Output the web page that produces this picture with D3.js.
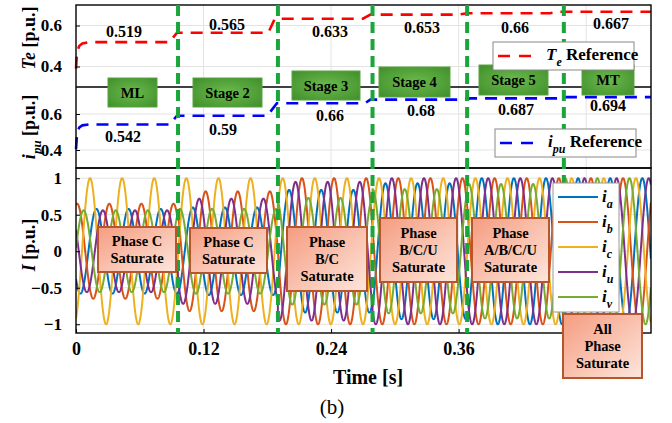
<!DOCTYPE html>
<html>
<head>
<meta charset="utf-8">
<script src="https://cdn.jsdelivr.net/npm/d3@7"></script>
<style>
  body { margin: 0; background: #fff; }
  text { font-family: "Liberation Serif", "Times New Roman", serif; font-weight: bold; fill: #000; }
</style>
</head>
<body>
<svg id="chart" width="672" height="423"></svg>
<script>
/* ---------- data ---------- */
// stage boundaries [s] (green dashed lines) and names
const stageEdges = [0, 0.096, 0.19, 0.279, 0.368, 0.459, 0.541];
const stageNames = ["ML", "Stage 2", "Stage 3", "Stage 4", "Stage 5", "MT"];

// Te reference (red dashed)
const teTimes  = [0, 0.001, 0.003, 0.006, 0.012, 0.088, 0.095, 0.181, 0.187, 0.270, 0.277, 0.360, 0.368, 0.446, 0.455, 0.541];
const teValues = [0.39, 0.47, 0.50, 0.512, 0.519, 0.519, 0.565, 0.565, 0.633, 0.633, 0.653, 0.653, 0.66, 0.66, 0.667, 0.667];
const teLabels = ["0.519", "0.565", "0.633", "0.653", "0.66", "0.667"];

// ipu reference (blue dashed)
const ipuTimes  = [0, 0.001, 0.003, 0.006, 0.012, 0.088, 0.095, 0.180, 0.189, 0.272, 0.277, 0.363, 0.371, 0.453, 0.458, 0.541];
const ipuValues = [0.405, 0.49, 0.525, 0.537, 0.542, 0.542, 0.59, 0.59, 0.66, 0.66, 0.68, 0.68, 0.687, 0.687, 0.694, 0.694];
const ipuLabels = ["0.542", "0.59", "0.66", "0.68", "0.687", "0.694"];

// phase currents: amplitude in each stage, peak lag (fraction of a period after ic)
const phaseNames = ["a", "b", "c", "u", "v"];
const ampA = [0.58, 0.60, 0.84, 0.93, 1.00, 1.00];
const ampB = [0.65, 0.82, 1.00, 1.00, 1.00, 1.00];
const ampC = [1.00, 1.00, 1.00, 1.00, 1.00, 1.00];
const ampU = [0.56, 0.72, 0.95, 1.00, 1.00, 1.00];
const ampV = [0.56, 0.58, 0.73, 0.85, 0.92, 1.00];
const phaseLag = [0.2, 0.6, 0, 0.4, 0.8];
const freqHz = 33.1;
const firstPeakC = 0.0132;

const saturateTexts = [
  ["Phase C", "Saturate"],
  ["Phase C", "Saturate"],
  ["Phase", "B/C", "Saturate"],
  ["Phase", "B/C/U", "Saturate"],
  ["Phase", "A/B/C/U", "Saturate"],
  ["All", "Phase", "Saturate"]
];

const xTicks = [0, 0.12, 0.24, 0.36, 0.48];
// the 0.48 label is hidden under the "All Phase Saturate" box in the original
const xTickLabels = ["0", "0.12", "0.24", "0.36", ""];
const teTicks = [0.4, 0.6];
const ipuTicks = [0.4, 0.6];
const iTicks = [-1, -0.5, 0, 0.5, 1];

/* ---------- layout / style ---------- */
const phaseColors = ["#0072BD", "#D95319", "#EDB120", "#7E2F8E", "#77AC30"];
const stageGreen = "#1aa63a";
const L = 76, R = 651;

const svg = d3.select("#chart");
const defs = svg.append("defs");

const x = d3.scaleLinear().domain([0, 0.541]).range([L, R]);
const yTe = d3.scaleLinear().domain([0.3, 0.7]).range([87, 5]);
const yIpu = d3.scaleLinear().domain([0.3, 0.75]).range([168, 87]);
const yI = d3.scaleLinear().domain([-1.12, 1.14]).range([333, 168]);

// gradients
const gGreen = defs.append("radialGradient").attr("id", "gGreen").attr("cx", "50%").attr("cy", "50%").attr("r", "70%");
gGreen.append("stop").attr("offset", "0%").attr("stop-color", "#6cbb4c");
gGreen.append("stop").attr("offset", "100%").attr("stop-color", "#3f8e2b");
const gPeach = defs.append("linearGradient").attr("id", "gPeach").attr("x1", "0").attr("y1", "0").attr("x2", "1").attr("y2", "1");
gPeach.append("stop").attr("offset", "0%").attr("stop-color", "#f59c80");
gPeach.append("stop").attr("offset", "100%").attr("stop-color", "#fde6dc");

defs.append("clipPath").attr("id", "clipI")
  .append("rect").attr("x", L).attr("y", 168).attr("width", R - L).attr("height", 165);

/* ---------- grid ---------- */
const grid = svg.append("g").attr("stroke", "#e3e3e3").attr("stroke-width", 1);
xTicks.filter(d => d > 0).forEach(t => {
  grid.append("line").attr("x1", x(t)).attr("x2", x(t)).attr("y1", 5).attr("y2", 333);
});
teTicks.forEach(v => grid.append("line").attr("x1", L).attr("x2", R).attr("y1", yTe(v)).attr("y2", yTe(v)));
ipuTicks.forEach(v => grid.append("line").attr("x1", L).attr("x2", R).attr("y1", yIpu(v)).attr("y2", yIpu(v)));
iTicks.forEach(v => grid.append("line").attr("x1", L).attr("x2", R).attr("y1", yI(v)).attr("y2", yI(v)));

/* ---------- phase currents ---------- */
const period = 1 / freqHz;
const amps = [ampA, ampB, ampC, ampU, ampV];
function stageOf(t) {
  let s = d3.bisectRight(stageEdges, t) - 1;
  return Math.max(0, Math.min(stageNames.length - 1, s));
}
const tSamples = d3.range(0, 0.541, 0.0001);
const waveLine = d3.line().x(d => x(d[0])).y(d => yI(d[1]));
const waves = svg.append("g").attr("clip-path", "url(#clipI)");
phaseNames.forEach((p, k) => {
  const pts = tSamples.map(t => {
    const a = amps[k][stageOf(t)];
    return [t, a * Math.cos(2 * Math.PI * freqHz * (t - firstPeakC - phaseLag[k] * period))];
  });
  waves.append("path").attr("d", waveLine(pts)).attr("fill", "none")
    .attr("stroke", phaseColors[k]).attr("stroke-width", 2);
});

/* ---------- reference lines ---------- */
const teLine = d3.line().x((d, i) => x(teTimes[i])).y(d => yTe(d));
svg.append("path").attr("d", teLine(teValues)).attr("fill", "none")
  .attr("stroke", "#ff0000").attr("stroke-width", 2.6).attr("stroke-dasharray", "12,8");
const ipuLine = d3.line().x((d, i) => x(ipuTimes[i])).y(d => yIpu(d));
svg.append("path").attr("d", ipuLine(ipuValues)).attr("fill", "none")
  .attr("stroke", "#0000ff").attr("stroke-width", 2.6).attr("stroke-dasharray", "12,8");

/* ---------- frames ---------- */
const frame = svg.append("g").attr("fill", "none").attr("stroke", "#000").attr("stroke-width", 1.4);
frame.append("rect").attr("x", L).attr("y", 5).attr("width", R - L).attr("height", 163);
frame.append("line").attr("x1", L).attr("x2", R).attr("y1", 87).attr("y2", 87);
frame.append("rect").attr("x", L).attr("y", 168).attr("width", R - L).attr("height", 165);

/* ---------- axes ---------- */
function styleAxis(g) {
  g.select(".domain").remove();
  g.selectAll(".tick line").attr("stroke", "#000");
  g.selectAll(".tick text").style("font-size", "17px").style("font-family", '"Liberation Serif", serif')
    .style("font-weight", "bold").attr("fill", "#000");
}
svg.append("g").attr("transform", `translate(${L},0)`)
  .call(d3.axisLeft(yTe).tickValues(teTicks).tickSize(-4).tickPadding(14).tickFormat(d3.format(".1f")))
  .call(styleAxis);
svg.append("g").attr("transform", `translate(${L},0)`)
  .call(d3.axisLeft(yIpu).tickValues(ipuTicks).tickSize(-4).tickPadding(14).tickFormat(d3.format(".1f")))
  .call(styleAxis);
svg.append("g").attr("transform", `translate(${L},0)`)
  .call(d3.axisLeft(yI).tickValues(iTicks).tickSize(-4).tickPadding(14).tickFormat(d => d === 0 ? "0" : d3.format("")(d)))
  .call(styleAxis);
svg.append("g").attr("transform", "translate(0,333)")
  .call(d3.axisBottom(x).tickValues(xTicks).tickSize(-4).tickPadding(9).tickFormat((d, i) => xTickLabels[i]))
  .call(styleAxis)
  .selectAll(".tick text").style("font-size", "18px");

/* ---------- axis titles ---------- */
function yTitle(cy, main, sub) {
  const t = svg.append("text").attr("transform", `translate(35,${cy}) rotate(-90)`)
    .attr("text-anchor", "middle").style("font-size", "18px");
  t.append("tspan").style("font-style", "italic").text(main);
  if (sub) t.append("tspan").attr("dy", 6).style("font-style", "italic").style("font-size", "13px").text(sub);
  t.append("tspan").attr("dy", sub ? -6 : 0).text(" [p.u.]");
}
yTitle(38, "Te", null);
yTitle(127, "i", "pu");
yTitle(245, "I", null);

svg.append("text").attr("x", 368).attr("y", 384).attr("text-anchor", "middle")
  .style("font-size", "20px").text("Time [s]");
svg.append("text").attr("x", 332).attr("y", 414).attr("text-anchor", "middle")
  .style("font-size", "21px").style("font-weight", "normal").text("(b)");

/* ---------- stage dividers ---------- */
stageEdges.slice(1, -1).forEach(t => {
  svg.append("line").attr("x1", x(t)).attr("x2", x(t)).attr("y1", 5).attr("y2", 333)
    .attr("stroke", stageGreen).attr("stroke-width", 4).attr("stroke-dasharray", "11,6");
});

/* ---------- value labels ---------- */
const teLabelY = [37, 30, 37, 33, 33, 29];
const teLabelX = [124, 227, 330, 422, 515, 611];
const ipuLabelY = [142, 135, 121, 116, 115, 111];
const ipuLabelX = [123, 223, 330, 421, 516, 608];
teLabels.forEach((s, i) => svg.append("text").attr("x", teLabelX[i]).attr("y", teLabelY[i])
  .attr("text-anchor", "middle").style("font-size", "16px").text(s));
ipuLabels.forEach((s, i) => svg.append("text").attr("x", ipuLabelX[i]).attr("y", ipuLabelY[i])
  .attr("text-anchor", "middle").style("font-size", "16px").text(s));

/* ---------- stage boxes ---------- */
const stageBox = [
  { x: 108, y: 78, w: 49, h: 29 }, { x: 193, y: 78, w: 69, h: 29 }, { x: 292, y: 71, w: 68, h: 29 },
  { x: 379, y: 67, w: 71, h: 30 }, { x: 479, y: 65, w: 69, h: 30 }, { x: 582, y: 65, w: 52, h: 30 }
];
stageNames.forEach((n, i) => {
  const b = stageBox[i];
  svg.append("rect").attr("x", b.x).attr("y", b.y).attr("width", b.w).attr("height", b.h)
    .attr("fill", "url(#gGreen)").attr("stroke", "#58a440").attr("stroke-width", 1);
  svg.append("text").attr("x", b.x + b.w / 2).attr("y", b.y + b.h / 2 + 5)
    .attr("text-anchor", "middle").style("font-size", "14.5px").attr("fill", "#111").text(n);
});

/* ---------- saturation boxes ---------- */
const satBox = [
  { x: 98, y: 227, w: 78, h: 45 }, { x: 190, y: 228, w: 77, h: 45 }, { x: 287, y: 227, w: 80, h: 64 },
  { x: 380, y: 218, w: 77, h: 64 }, { x: 472, y: 218, w: 77, h: 64 }, { x: 563, y: 314, w: 79, h: 64 }
];

/* ---------- legends ---------- */
function refLegend(bx, by, color, main, sub) {
  svg.append("rect").attr("x", bx).attr("y", by).attr("width", 141).attr("height", 28)
    .attr("fill", "#fff").attr("stroke", "#888").attr("stroke-width", 1);
  svg.append("line").attr("x1", bx + 5).attr("x2", bx + 40).attr("y1", by + 14).attr("y2", by + 14)
    .attr("stroke", color).attr("stroke-width", 2.6).attr("stroke-dasharray", "12,9");
  const t = svg.append("text").attr("x", bx + 53).attr("y", by + 18).style("font-size", "17px");
  t.append("tspan").style("font-style", "italic").text(main);
  t.append("tspan").attr("dy", 6).style("font-style", "italic").style("font-size", "12px").text(sub);
  t.append("tspan").attr("dy", -6).text(" Reference");
}
refLegend(493, 42, "#ff0000", "T", "e");
refLegend(495, 129, "#0000ff", "i", "pu");

satBox.forEach((b, i) => {
  svg.append("rect").attr("x", b.x).attr("y", b.y).attr("width", b.w).attr("height", b.h)
    .attr("fill", "url(#gPeach)").attr("stroke", "#b5562c").attr("stroke-width", 2);
  const lines = saturateTexts[i];
  const y0 = b.y + b.h / 2 - (lines.length - 1) * 8.5 + 5;
  lines.forEach((s, j) => svg.append("text").attr("x", b.x + b.w / 2).attr("y", y0 + j * 17)
    .attr("text-anchor", "middle").style("font-size", "14.5px").text(s));
});

const lg = svg.append("g");
lg.append("rect").attr("x", 553).attr("y", 183).attr("width", 66).attr("height", 129)
  .attr("fill", "#fff").attr("stroke", "#999").attr("stroke-width", 1);
phaseNames.forEach((p, k) => {
  const yy = 197 + k * 25;
  lg.append("line").attr("x1", 558).attr("x2", 598).attr("y1", yy).attr("y2", yy)
    .attr("stroke", phaseColors[k]).attr("stroke-width", 2);
  const t = lg.append("text").attr("x", 602).attr("y", yy + 5).style("font-size", "17px").style("font-style", "italic");
  t.append("tspan").text("i");
  t.append("tspan").attr("dy", 6).style("font-size", "12px").text(p);
});
</script>
</body>
</html>
